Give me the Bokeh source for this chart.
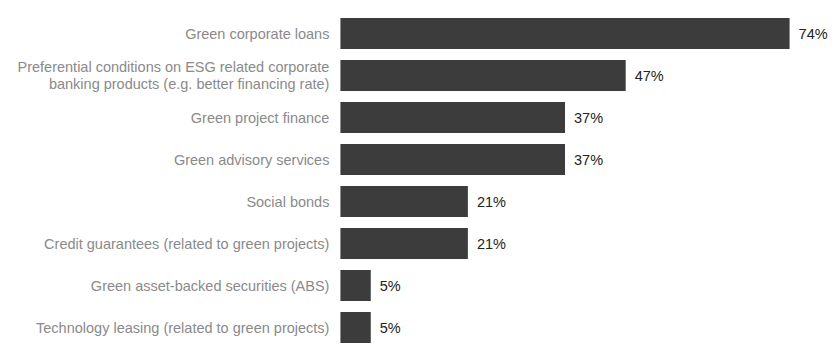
from bokeh.plotting import figure
from bokeh.models import ColumnDataSource, Range1d, FactorRange
from bokeh.core.properties import value
from bokeh.embed import file_html
from bokeh.resources import INLINE

categories = [
    "Green corporate loans",
    "Preferential conditions on ESG related corporate\nbanking products (e.g. better financing rate)",
    "Green project finance",
    "Green advisory services",
    "Social bonds",
    "Credit guarantees (related to green projects)",
    "Green asset-backed securities (ABS)",
    "Technology leasing (related to green projects)",
]
values = [74, 47, 37, 37, 21, 21, 5, 5]
value_labels = [f"{v}%" for v in values]

src = ColumnDataSource(dict(
    cat=categories,
    val=values,
    lbl=value_labels,
    zero=[0] * len(values),
))

p = figure(
    width=834, height=354,
    y_range=FactorRange(*categories[::-1], range_padding=0),
    x_range=Range1d(-56.0, 81.4),
    output_backend="svg", toolbar_location=None,
    min_border_left=0, min_border_right=0, min_border_top=12, min_border_bottom=6,
)
p.axis.visible = False
p.grid.visible = False
p.outline_line_color = None
p.background_fill_color = "white"
p.border_fill_color = "white"

p.hbar(y="cat", left=0, right="val", height=0.74, source=src,
       fill_color="#3c3c3c", line_color=None)

p.text(x="val", y="cat", text="lbl", source=src, x_offset=9,
       text_align="left", text_baseline="middle",
       text_font=value("Liberation Sans"), text_font_size="14.5px",
       text_color="#222222")

p.text(x="zero", y="cat", text="cat", source=src, x_offset=-11,
       text_align="right", text_baseline="middle",
       text_font=value("Liberation Sans"), text_font_size="14.5px",
       text_color="#8a8a8a", text_line_height=1.1)

open("out.html", "w").write(file_html(p, INLINE))
